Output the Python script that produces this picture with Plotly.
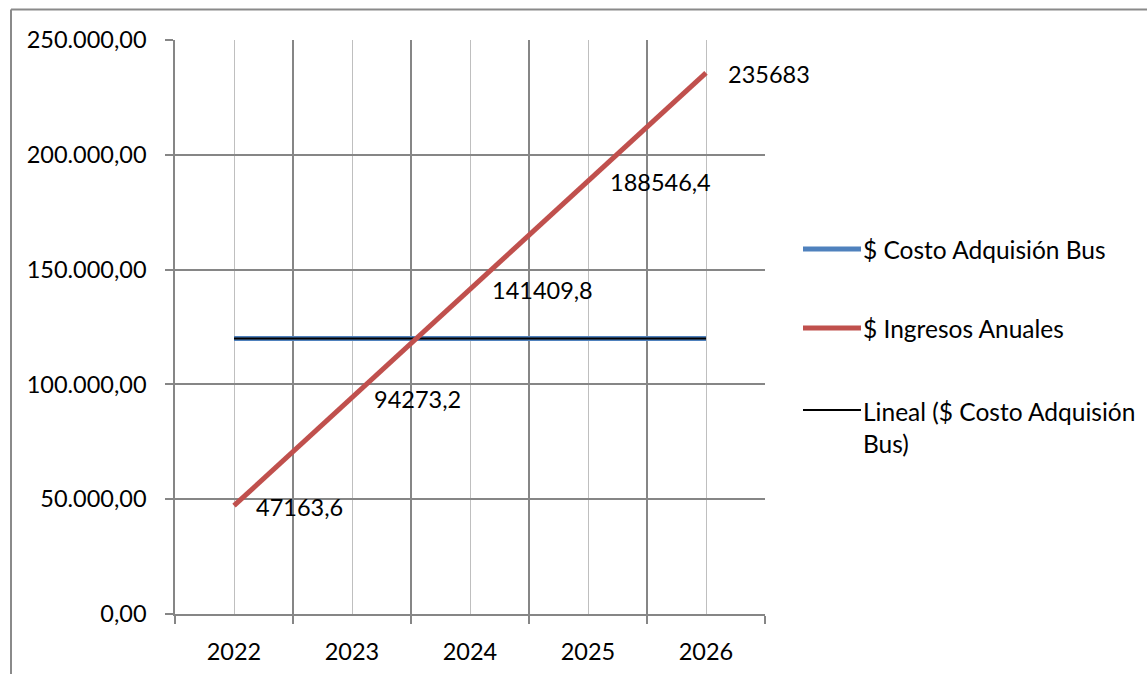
import numpy as np
import plotly.graph_objects as go

years = ["2022", "2023", "2024", "2025", "2026"]
costo_bus = [120000, 120000, 120000, 120000, 120000]
ingresos = [47163.6, 94273.2, 141409.8, 188546.4, 235683]
y_ticks = [0, 50000, 100000, 150000, 200000, 250000]

names = ["$ Costo Adquisión Bus", "$ Ingresos Anuales", "Lineal ($ Costo Adquisión Bus)"]

W, H = 1147, 674
L, R, T, B = 175, 382, 40, 60
PW, PH = W - L - R, H - T - B

def xp(px):
    return (px - L) / PW

def yp(py):
    return (H - B - py) / PH

FONT = "Lato"
FS = 23.5
FSL = 24.5
GRID = "#868686"
LIGHT = "#bfbfbf"
BLUE = "#4F81BD"
RED = "#C0504D"

xi = np.arange(len(years))
coef = np.polyfit(xi, costo_bus, 1)
trend = np.polyval(coef, xi)

fig = go.Figure()
fig.add_trace(go.Scatter(x=xi, y=costo_bus, mode="lines", name=names[0],
                         line=dict(color=BLUE, width=5), showlegend=False))
fig.add_trace(go.Scatter(x=xi, y=trend, mode="lines", name=names[2],
                         line=dict(color="#000000", width=2), showlegend=False))
fig.add_trace(go.Scatter(x=xi, y=ingresos, mode="lines", name=names[1],
                         line=dict(color=RED, width=5), showlegend=False))

def fmt(v):
    if float(v) == int(v):
        return str(int(v))
    return str(v).replace(".", ",")

annotations = []
for i, v in enumerate(ingresos):
    annotations.append(dict(x=i, y=v, xref="x", yref="y", text=fmt(v), showarrow=False,
                            xanchor="left", yanchor="middle", xshift=20, yshift=-1,
                            font=dict(family=FONT, size=FS, color="black")))

# custom legend
leg_items = [
    (names[0], BLUE, 5, 249, 249),
    (names[1], RED, 5, 328, 328),
    ("Lineal ($ Costo Adquisión<br>Bus)", "#000000", 2, 410, 427),
]
shapes = []
for text, col, w, ly, ty in leg_items:
    shapes.append(dict(type="line", xref="paper", yref="paper",
                       x0=xp(803), x1=xp(861), y0=yp(ly), y1=yp(ly),
                       line=dict(color=col, width=w)))
    annotations.append(dict(x=xp(861), y=yp(ty), xref="paper", yref="paper", text=text,
                            showarrow=False, xanchor="left", yanchor="middle", align="left",
                            font=dict(family=FONT, size=FSL, color="black")))

# outer frame (top and left)
shapes.append(dict(type="line", xref="paper", yref="paper", x0=xp(11), x1=xp(1150),
                   y0=yp(9.5), y1=yp(9.5), line=dict(color="#8a8a8a", width=2)))
shapes.append(dict(type="line", xref="paper", yref="paper", x0=xp(11), x1=xp(11),
                   y0=yp(9.5), y1=yp(680), line=dict(color="#8a8a8a", width=2)))

fig.update_layout(
    width=W, height=H,
    margin=dict(l=L, r=R, t=T, b=B, pad=0, autoexpand=False),
    paper_bgcolor="white", plot_bgcolor="white",
    separators=",.",
    font=dict(family=FONT, size=FS, color="black"),
    showlegend=False,
    annotations=annotations,
    shapes=shapes,
)

fig.update_xaxes(
    automargin=False,
    range=[-0.5, len(years) - 0.5],
    tickmode="array", tickvals=list(xi), ticktext=years,
    ticks="outside", ticklen=8, tickcolor="rgba(0,0,0,0)",
    ticklabelstandoff=8,
    showgrid=True, gridcolor=LIGHT, gridwidth=1,
    showline=True, linecolor=GRID, linewidth=1.5,
    zeroline=False,
    minor=dict(tickmode="array", tickvals=[i - 0.5 for i in range(len(years) + 1)],
               ticks="outside", ticklen=8, tickcolor=GRID, tickwidth=1.5,
               showgrid=True, gridcolor=GRID, gridwidth=1.5),
    tickfont=dict(family=FONT, size=FS, color="black"),
)
fig.update_yaxes(
    automargin=False,
    range=[0, 250000],
    tickmode="array", tickvals=y_ticks,
    tickformat=",.2f",
    ticks="outside", ticklen=8, tickcolor=GRID, tickwidth=1.5,
    ticklabelstandoff=14,
    showgrid=True, gridcolor=GRID, gridwidth=1.5,
    showline=True, linecolor=GRID, linewidth=1.5,
    zeroline=False,
    tickfont=dict(family=FONT, size=FS, color="black"),
)

fig.write_html("out.html")
